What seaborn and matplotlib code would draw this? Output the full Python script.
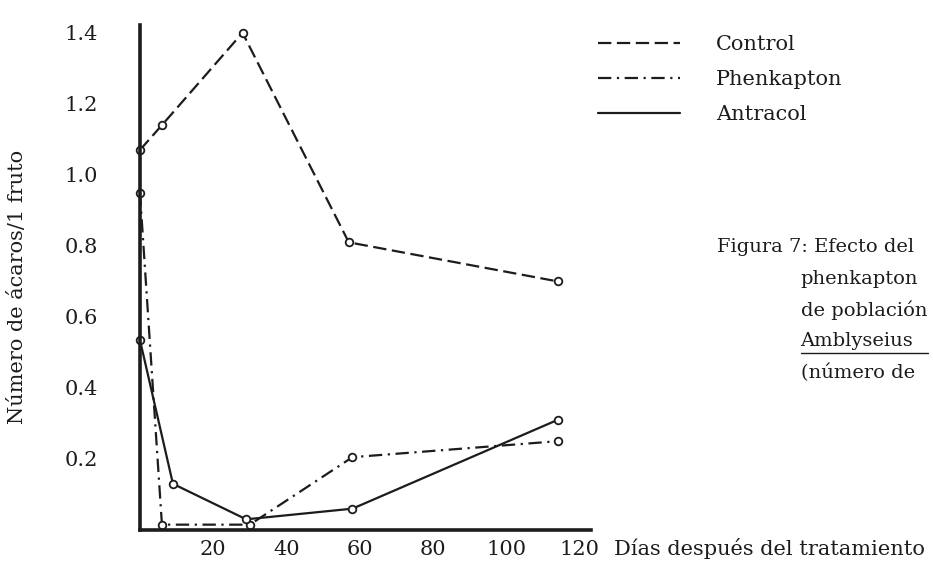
import matplotlib
matplotlib.use("Agg")
import matplotlib.pyplot as plt
from matplotlib.lines import Line2D
import pandas as pd
import seaborn as sns

# valores (dias despues del tratamiento, acaros por fruto)
control_dias = [0, 6, 28, 57, 114]
control_val = [1.07, 1.14, 1.40, 0.81, 0.70]
phenkapton_dias = [0, 6, 30, 58, 114]
phenkapton_val = [0.95, 0.015, 0.015, 0.205, 0.25]
antracol_dias = [0, 9, 29, 58, 114]
antracol_val = [0.535, 0.13, 0.03, 0.06, 0.31]

tratamientos = ["Control", "Phenkapton", "Antracol"]
x_ticks = [20, 40, 60, 80, 100, 120]
y_ticks = [0.2, 0.4, 0.6, 0.8, 1.0, 1.2, 1.4]
y_labels = ["0.2", "0.4", "0.6", "0.8", "1.0", "1.2", "1.4"]

caption = ["Figura 7: Efecto del", "phenkapton", "de población",
           "Amblyseius", "(número de"]

df = pd.concat([
    pd.DataFrame({"dia": control_dias, "valor": control_val, "tratamiento": "Control"}),
    pd.DataFrame({"dia": phenkapton_dias, "valor": phenkapton_val, "tratamiento": "Phenkapton"}),
    pd.DataFrame({"dia": antracol_dias, "valor": antracol_val, "tratamiento": "Antracol"}),
], ignore_index=True)

sns.set_theme(style="white")
plt.rcParams["font.family"] = ["DejaVu Serif", "DejaVu Sans"]

ink = "#1c1c1c"
fs = 15
dash_styles = {"Control": (6, 2.5), "Phenkapton": (6, 2.5, 1, 2.5), "Antracol": ""}

fig = plt.figure(figsize=(9.33, 5.77), dpi=100)
ax = fig.add_axes([0.150, 0.0815, 0.483, 0.8755])

sns.lineplot(data=df, x="dia", y="valor", style="tratamiento", style_order=tratamientos,
             dashes=dash_styles, markers={t: "o" for t in tratamientos},
             color=ink, linewidth=1.6, markersize=5.5, markerfacecolor="white",
             markeredgecolor=ink, markeredgewidth=1.3,
             estimator=None, sort=False, legend=False, ax=ax)
for ln in ax.lines:
    ln.set_clip_on(False)

ax.set_xlim(0, 123)
ax.set_ylim(0, 1.4225)
ax.set_xticks(x_ticks)
ax.set_xticklabels([str(t) for t in x_ticks])
ax.set_yticks(y_ticks)
ax.set_yticklabels(y_labels)
ax.tick_params(axis="y", direction="in", length=6, width=1.5, color=ink,
               pad=30, labelsize=fs, labelcolor=ink)
ax.tick_params(axis="x", direction="in", length=6, width=1.5, color=ink,
               pad=7, labelsize=fs, labelcolor=ink)
ax.set_xlabel("")
ax.set_ylabel("")
sns.despine(ax=ax)
for side in ["left", "bottom"]:
    ax.spines[side].set_linewidth(2.6)
    ax.spines[side].set_color(ink)

# etiquetas de ejes como en el original
fig.text(0.658, 0.050, "Días después del tratamiento", fontsize=fs,
         color=ink, ha="left", va="center")
fig.text(0.019, 0.503, "Número de ácaros/1 fruto", fontsize=fs, color=ink,
         rotation=90, ha="center", va="center")

# leyenda sin marcadores
handles = [Line2D([], [], color=ink, linewidth=1.6,
                  linestyle=(0, dash_styles[t]) if dash_styles[t] else "-")
           for t in tratamientos]
fig.legend(handles, tratamientos, loc="upper left", bbox_to_anchor=(0.621, 0.972),
           frameon=False, fontsize=fs, handlelength=3.95, handletextpad=1.7,
           labelspacing=0.78, labelcolor=ink)

# pie de figura, pegado al borde derecho
cap_fs = 14
fig.text(0.768, 1 - 247 / 577, caption[0], fontsize=cap_fs, color=ink, va="center")
line_y = [279, 310, 341, 373]
for txt, yy in zip(caption[1:], line_y):
    fig.text(0.858, 1 - yy / 577, txt, fontsize=cap_fs, color=ink, va="center")
fig.add_artist(Line2D([0.858, 0.995], [1 - 353 / 577, 1 - 353 / 577],
                      color=ink, linewidth=1.0, transform=fig.transFigure))

fig.savefig("out.png", dpi=100)
